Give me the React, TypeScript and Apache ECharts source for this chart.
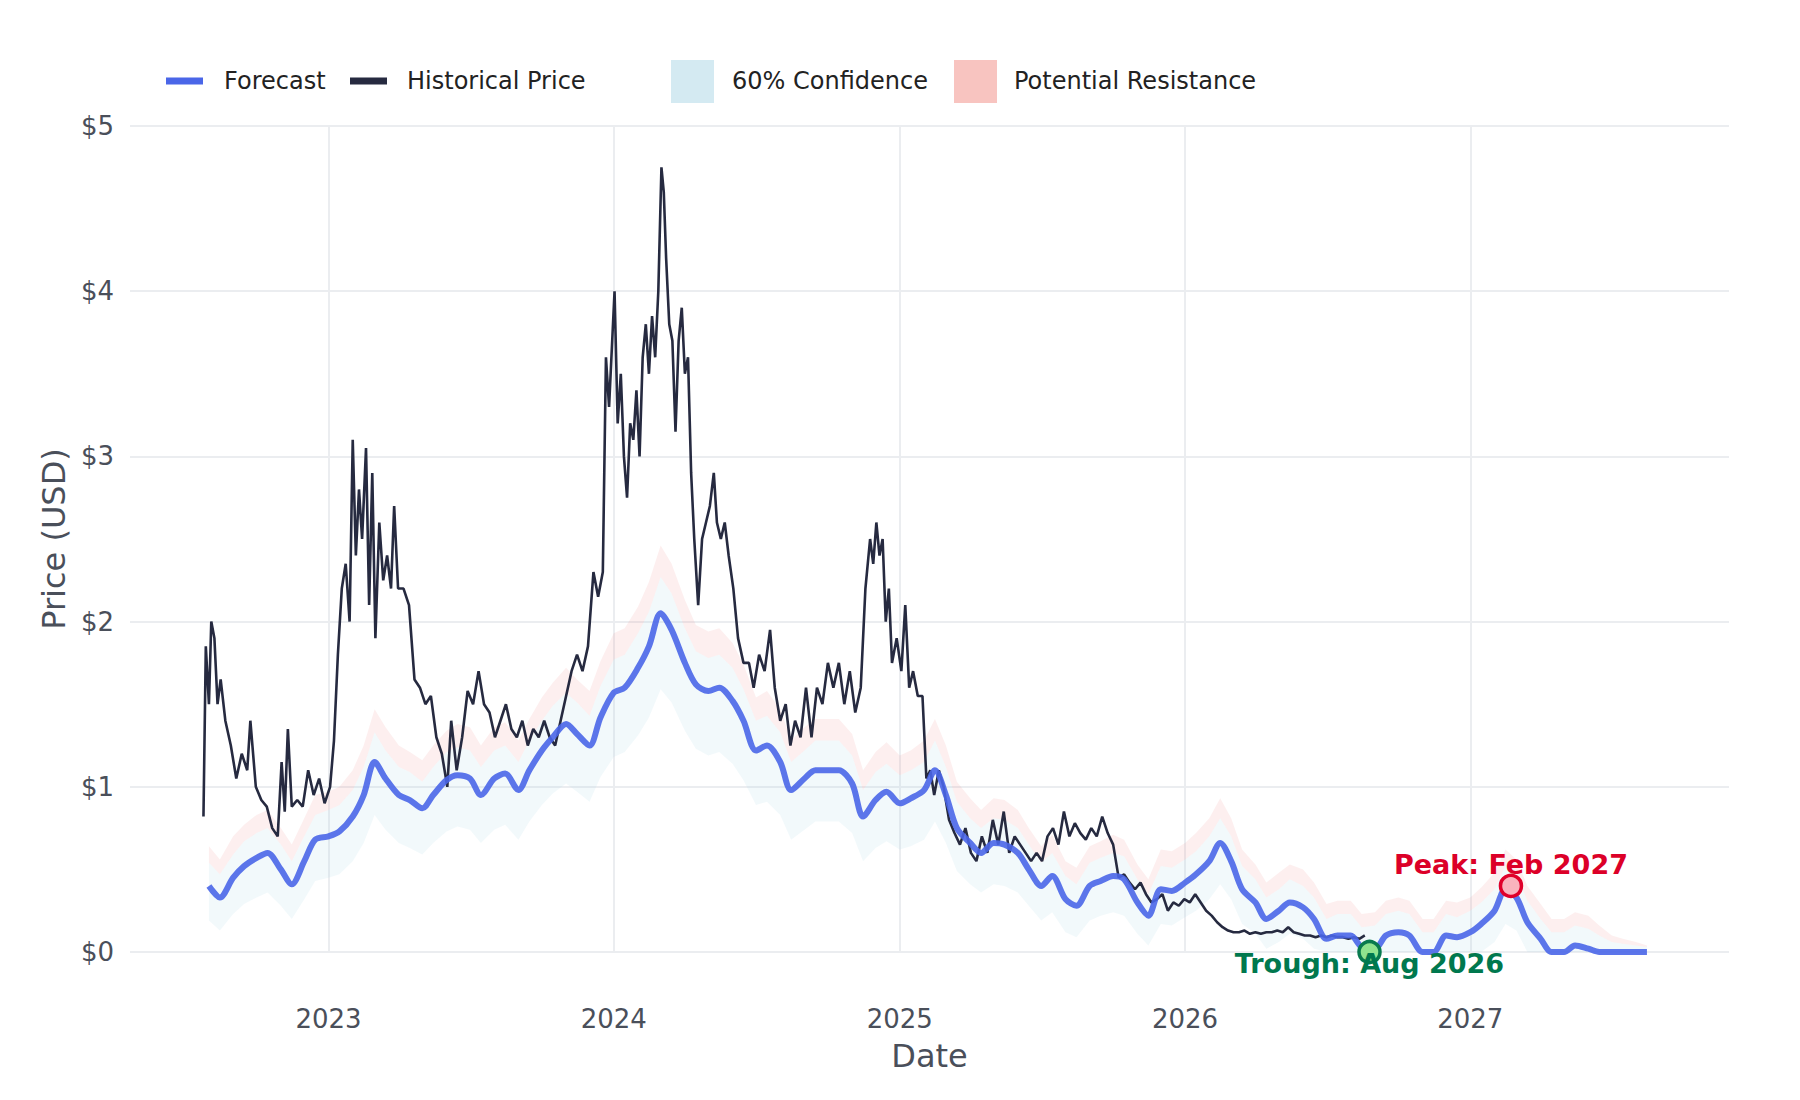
import { useEffect, useRef } from "react";
import * as echarts from "echarts";

// historical price, roughly weekly
const histDates = [
  "2022-07-25","2022-07-28","2022-08-01","2022-08-04","2022-08-08","2022-08-12","2022-08-16","2022-08-22","2022-08-29","2022-09-05","2022-09-12","2022-09-19","2022-09-23","2022-09-30","2022-10-07","2022-10-14","2022-10-21","2022-10-28","2022-11-02","2022-11-06","2022-11-10","2022-11-15","2022-11-22","2022-11-29","2022-12-06","2022-12-13","2022-12-20","2022-12-27",
  "2023-01-03","2023-01-08","2023-01-13","2023-01-18","2023-01-23","2023-01-28","2023-02-01","2023-02-05","2023-02-09","2023-02-13","2023-02-18","2023-02-22","2023-02-26","2023-03-02","2023-03-07","2023-03-12","2023-03-17","2023-03-22","2023-03-26","2023-03-31","2023-04-07","2023-04-14","2023-04-21","2023-04-28","2023-05-05","2023-05-12","2023-05-19","2023-05-26","2023-06-02","2023-06-07","2023-06-14","2023-06-21","2023-06-28","2023-07-05","2023-07-12","2023-07-19","2023-07-26","2023-08-02","2023-08-09","2023-08-16","2023-08-23","2023-08-30","2023-09-06","2023-09-13","2023-09-20","2023-09-27","2023-10-04","2023-10-11","2023-10-18","2023-10-25","2023-11-01","2023-11-08","2023-11-15","2023-11-22","2023-11-29","2023-12-06","2023-12-12","2023-12-18","2023-12-22","2023-12-26","2023-12-30",
  "2024-01-02","2024-01-06","2024-01-10","2024-01-14","2024-01-18","2024-01-22","2024-01-26","2024-01-30","2024-02-03","2024-02-07","2024-02-11","2024-02-15","2024-02-19","2024-02-23","2024-02-27","2024-03-02","2024-03-05","2024-03-08","2024-03-12","2024-03-16","2024-03-20","2024-03-24","2024-03-28","2024-04-01","2024-04-05","2024-04-09","2024-04-13","2024-04-18","2024-04-23","2024-04-28","2024-05-03","2024-05-08","2024-05-12","2024-05-17","2024-05-22","2024-05-27","2024-06-02","2024-06-08","2024-06-15","2024-06-22","2024-06-28","2024-07-05","2024-07-12","2024-07-19","2024-07-25","2024-08-01","2024-08-08","2024-08-14","2024-08-20","2024-08-27","2024-09-03","2024-09-10","2024-09-17","2024-09-24","2024-10-01","2024-10-08","2024-10-15","2024-10-22","2024-10-29","2024-11-05","2024-11-12","2024-11-18","2024-11-24","2024-11-28","2024-12-02","2024-12-06","2024-12-10","2024-12-14","2024-12-18","2024-12-22","2024-12-28",
  "2025-01-03","2025-01-08","2025-01-13","2025-01-18","2025-01-24","2025-01-30","2025-02-04","2025-02-09","2025-02-14","2025-02-20","2025-02-26","2025-03-05","2025-03-12","2025-03-19","2025-03-26","2025-04-02","2025-04-09","2025-04-16","2025-04-23","2025-04-30","2025-05-07","2025-05-14","2025-05-21","2025-05-28","2025-06-04","2025-06-11","2025-06-18","2025-06-25","2025-07-02","2025-07-09","2025-07-16","2025-07-23","2025-07-30","2025-08-06","2025-08-13","2025-08-20","2025-08-27","2025-09-03","2025-09-10","2025-09-17","2025-09-24","2025-10-01","2025-10-08","2025-10-15","2025-10-22","2025-10-29","2025-11-05","2025-11-12","2025-11-19","2025-11-26","2025-12-03","2025-12-10","2025-12-17","2025-12-24","2025-12-31",
  "2026-01-07","2026-01-14","2026-01-21","2026-01-28","2026-02-04","2026-02-11","2026-02-18","2026-02-25","2026-03-04","2026-03-11","2026-03-18","2026-03-25","2026-04-01","2026-04-08","2026-04-15","2026-04-22","2026-04-29","2026-05-06","2026-05-13","2026-05-20","2026-05-27","2026-06-03","2026-06-10","2026-06-17","2026-06-24","2026-07-01","2026-07-08","2026-07-15","2026-07-22","2026-07-29","2026-08-05","2026-08-12","2026-08-19",
];
const histValues = [
  0.82,1.85,1.5,2.0,1.9,1.5,1.65,1.4,1.25,1.05,1.2,1.1,1.4,1.0,0.92,0.88,0.75,0.7,1.15,0.85,1.35,0.88,0.92,0.88,1.1,0.95,1.05,0.9,
  1.0,1.28,1.8,2.2,2.35,2.0,3.1,2.4,2.8,2.5,3.05,2.1,2.9,1.9,2.6,2.25,2.4,2.2,2.7,2.2,2.2,2.1,1.65,1.6,1.5,1.55,1.3,1.2,1.0,1.4,1.1,1.3,1.58,1.5,1.7,1.5,1.45,1.3,1.4,1.5,1.35,1.3,1.4,1.25,1.35,1.3,1.4,1.3,1.25,1.4,1.55,1.7,1.8,1.7,1.85,2.3,2.15,2.3,3.6,3.3,3.7,
  4.0,3.2,3.5,3.0,2.75,3.2,3.1,3.4,3.0,3.6,3.8,3.5,3.85,3.6,4.0,4.75,4.6,4.2,3.8,3.7,3.15,3.7,3.9,3.5,3.6,2.9,2.5,2.1,2.5,2.6,2.7,2.9,2.6,2.5,2.6,2.4,2.2,1.9,1.75,1.75,1.6,1.8,1.7,1.95,1.6,1.4,1.5,1.25,1.4,1.3,1.6,1.3,1.6,1.5,1.75,1.6,1.75,1.5,1.7,1.45,1.6,2.2,2.5,2.35,2.6,2.4,2.5,2.0,2.2,1.75,1.9,
  1.7,2.1,1.6,1.7,1.55,1.55,1.05,1.1,0.95,1.1,1.0,0.8,0.72,0.65,0.75,0.6,0.55,0.7,0.6,0.8,0.65,0.85,0.6,0.7,0.65,0.6,0.55,0.6,0.55,0.7,0.75,0.65,0.85,0.7,0.78,0.72,0.68,0.75,0.7,0.82,0.72,0.65,0.45,0.47,0.42,0.38,0.42,0.35,0.3,0.32,0.35,0.25,0.3,0.28,0.32,
  0.3,0.35,0.3,0.25,0.22,0.18,0.15,0.13,0.12,0.12,0.13,0.11,0.12,0.11,0.12,0.12,0.13,0.12,0.15,0.12,0.11,0.1,0.1,0.09,0.1,0.09,0.1,0.09,0.09,0.08,0.09,0.08,0.1,
];

// forecast, 1st and 15th of each month from Aug 2022 to Aug 2027
const forecastMonths = [
  "2022-08","2022-09","2022-10","2022-11","2022-12",
  "2023-01","2023-02","2023-03","2023-04","2023-05","2023-06","2023-07","2023-08","2023-09","2023-10","2023-11","2023-12",
  "2024-01","2024-02","2024-03","2024-04","2024-05","2024-06","2024-07","2024-08","2024-09","2024-10","2024-11","2024-12",
  "2025-01","2025-02","2025-03","2025-04","2025-05","2025-06","2025-07","2025-08","2025-09","2025-10","2025-11","2025-12",
  "2026-01","2026-02","2026-03","2026-04","2026-05","2026-06","2026-07","2026-08","2026-09","2026-10","2026-11","2026-12",
  "2027-01","2027-02","2027-03","2027-04","2027-05","2027-06","2027-07","2027-08",
];
const forecast = [
  0.4,0.33,0.45,0.52,0.57,0.6,0.5,0.41,0.55,0.68,
  0.7,0.73,0.82,0.95,1.15,1.05,0.95,0.92,0.87,0.95,1.04,1.07,1.05,0.95,1.05,1.08,0.98,1.1,1.22,1.3,1.38,1.32,1.25,1.42,
  1.57,1.6,1.72,1.85,2.05,1.95,1.75,1.62,1.58,1.6,1.52,1.4,1.22,1.25,1.15,0.98,1.05,1.1,1.1,1.1,1.02,0.82,0.92,0.97,
  0.9,0.93,0.98,1.1,0.95,0.75,0.66,0.6,0.66,0.65,0.6,0.5,0.4,0.46,0.32,0.28,0.4,0.43,0.46,0.44,0.3,0.22,0.38,0.37,
  0.42,0.47,0.55,0.66,0.55,0.38,0.3,0.2,0.25,0.3,0.27,0.2,0.08,0.1,0.1,0.03,0.02,0.1,0.12,0.1,0,0,0.1,0.09,
  0.12,0.17,0.25,0.38,0.33,0.18,0.08,0,0,0.04,0.02,0,0,0,0,0,
];
const confLow = [
  0.19,0.13,0.23,0.29,0.33,0.36,0.28,0.2,0.32,0.43,
  0.45,0.47,0.55,0.66,0.83,0.74,0.66,0.63,0.59,0.66,0.73,0.76,0.74,0.66,0.74,0.77,0.68,0.79,0.89,0.96,1.02,0.97,0.91,1.06,
  1.18,1.21,1.31,1.42,1.59,1.51,1.34,1.23,1.19,1.21,1.14,1.04,0.89,0.91,0.83,0.68,0.74,0.79,0.79,0.79,0.72,0.55,0.63,0.67,
  0.62,0.64,0.68,0.79,0.66,0.49,0.41,0.36,0.41,0.4,0.36,0.28,0.19,0.24,0.12,0.09,0.19,0.22,0.24,0.22,0.11,0.04,0.17,0.16,
  0.21,0.25,0.32,0.41,0.32,0.17,0.11,0.02,0.06,0.11,0.08,0.02,0,0,0,0,0,0,0,0,0,0,0,0,
  0,0,0.06,0.17,0.13,0,0,0,0,0,0,0,0,0,0,0,
];
const confHigh = [
  0.54,0.47,0.59,0.67,0.72,0.75,0.65,0.55,0.7,0.83,
  0.86,0.89,0.98,1.12,1.33,1.22,1.12,1.09,1.03,1.12,1.21,1.24,1.22,1.12,1.22,1.25,1.15,1.28,1.4,1.49,1.57,1.51,1.43,1.61,
  1.77,1.8,1.93,2.06,2.27,2.17,1.96,1.82,1.78,1.8,1.72,1.59,1.4,1.43,1.33,1.15,1.22,1.28,1.28,1.28,1.19,0.98,1.09,1.14,
  1.07,1.1,1.15,1.28,1.12,0.91,0.81,0.75,0.81,0.8,0.75,0.65,0.54,0.6,0.46,0.41,0.54,0.57,0.6,0.58,0.44,0.35,0.52,0.51,
  0.56,0.61,0.7,0.81,0.7,0.52,0.44,0.33,0.38,0.44,0.4,0.33,0.2,0.23,0.23,0.15,0.16,0.23,0.25,0.23,0.12,0.12,0.23,0.21,
  0.25,0.3,0.38,0.52,0.47,0.31,0.2,0.12,0.12,0.16,0.14,0.1,0.06,0.05,0.04,0.03,
];
const resistHigh = [
  0.64,0.56,0.7,0.77,0.83,0.86,0.75,0.65,0.81,0.95,
  0.97,1.0,1.1,1.25,1.47,1.36,1.25,1.21,1.16,1.25,1.34,1.38,1.36,1.25,1.36,1.39,1.28,1.41,1.54,1.63,1.72,1.65,1.58,1.76,
  1.93,1.96,2.09,2.24,2.46,2.35,2.13,1.98,1.94,1.96,1.87,1.74,1.54,1.58,1.47,1.28,1.36,1.41,1.41,1.41,1.32,1.1,1.21,1.27,
  1.19,1.22,1.28,1.41,1.25,1.03,0.93,0.86,0.93,0.92,0.86,0.75,0.64,0.71,0.55,0.51,0.64,0.67,0.71,0.68,0.53,0.44,0.62,0.61,
  0.66,0.72,0.81,0.93,0.81,0.62,0.53,0.42,0.48,0.53,0.5,0.42,0.29,0.31,0.31,0.23,0.24,0.31,0.33,0.31,0.2,0.2,0.31,0.3,
  0.33,0.39,0.48,0.62,0.56,0.4,0.29,0.2,0.2,0.24,0.22,0.16,0.1,0.08,0.06,0.04,
];

const peakPoint = { date: "2027-02-22", value: 0.4, label: "Peak: Feb 2027" };
const troughPoint = { date: "2026-08-25", value: 0, label: "Trough: Aug 2026" };

const FONT = "DejaVu Sans";

export default function App() {
  const ref = useRef<HTMLDivElement>(null);

  useEffect(() => {
    if (!ref.current) return;
    const chart = echarts.init(ref.current, undefined, { renderer: "svg" });

    const fDates: string[] = [];
    forecastMonths.forEach((m) => {
      fDates.push(m + "-01");
      fDates.push(m + "-15");
    });
    const pair = (vals: number[]) => vals.map((v, i) => [fDates[i], v]);
    const confBand = confHigh.map((v, i) => [fDates[i], +(v - confLow[i]).toFixed(3)]);
    const resBand = resistHigh.map((v, i) => [fDates[i], +(v - confHigh[i]).toFixed(3)]);

    const legendFont = `24px '${FONT}'`;

    const option = {
      animation: false,
      backgroundColor: "#ffffff",
      textStyle: { fontFamily: FONT },
      grid: { left: 130, right: 71, top: 126, bottom: 148, containLabel: false },
      xAxis: {
        type: "time",
        min: "2022-04-22",
        max: "2027-11-28",
        splitNumber: 5,
        axisLine: { show: false },
        axisTick: { show: false },
        axisLabel: { color: "#4a4f5a", fontSize: 26, margin: 54, formatter: "{yyyy}" },
        splitLine: { show: true, showMinLine: false, showMaxLine: false, lineStyle: { color: "#ebedf0", width: 2 } },
        name: "Date",
        nameLocation: "middle",
        nameGap: 88,
        nameTextStyle: { color: "#4a4f5a", fontSize: 32 },
      },
      yAxis: {
        type: "value",
        min: 0,
        max: 5,
        interval: 1,
        axisLine: { show: false },
        axisTick: { show: false },
        axisLabel: { color: "#4a4f5a", fontSize: 26, margin: 16, formatter: "${value}" },
        splitLine: { lineStyle: { color: "#ebedf0", width: 2 } },
        name: "Price (USD)",
        nameLocation: "middle",
        nameGap: 60,
        nameTextStyle: { color: "#4a4f5a", fontSize: 32 },
      },
      series: [
        {
          type: "line", stack: "band", data: pair(confLow), symbol: "none",
          lineStyle: { opacity: 0 }, silent: true, z: 1,
        },
        {
          type: "line", stack: "band", data: confBand, symbol: "none",
          lineStyle: { opacity: 0 }, areaStyle: { color: "rgba(173,216,230,0.22)" }, silent: true, z: 1,
        },
        {
          type: "line", stack: "band", data: resBand, symbol: "none",
          lineStyle: { opacity: 0 }, areaStyle: { color: "rgba(240,128,128,0.18)" }, silent: true, z: 1,
        },
        {
          name: "Historical Price", type: "line", symbol: "none",
          data: histDates.map((d, i) => [d, histValues[i]]),
          lineStyle: { color: "#262a40", width: 2.6 }, z: 3,
        },
        {
          name: "Forecast", type: "line", symbol: "none", smooth: 0.3,
          data: pair(forecast),
          lineStyle: { color: "#4a66e8", width: 6, opacity: 0.9 }, z: 4,
        },
        {
          type: "scatter", symbol: "circle", symbolSize: 21, z: 6, clip: false,
          data: [
            {
              value: [peakPoint.date, peakPoint.value],
              itemStyle: { color: "#f9b3bd", borderColor: "#e0002a", borderWidth: 3.5, opacity: 1 },
              label: { show: true, position: "inside", offset: [0, -21], formatter: peakPoint.label, color: "#dc0028" },
            },
            {
              value: [troughPoint.date, troughPoint.value],
              itemStyle: { color: "#8fe38f", borderColor: "#087a4e", borderWidth: 3.5, opacity: 1 },
              label: { show: true, position: "inside", offset: [0, 11], formatter: troughPoint.label, color: "#00784e" },
            },
          ],
          label: { fontWeight: "bold", fontSize: 27, fontFamily: FONT },
        },
      ],
      graphic: [
        { type: "line", shape: { x1: 166, y1: 81, x2: 203, y2: 81 }, style: { stroke: "#4a66e8", lineWidth: 7 } },
        { type: "text", x: 224, y: 81, style: { text: "Forecast", font: legendFont, fill: "#222", verticalAlign: "middle" } },
        { type: "line", shape: { x1: 350, y1: 81, x2: 387, y2: 81 }, style: { stroke: "#262a40", lineWidth: 7 } },
        { type: "text", x: 407, y: 81, style: { text: "Historical Price", font: legendFont, fill: "#222", verticalAlign: "middle" } },
        { type: "rect", shape: { x: 671, y: 60, width: 43, height: 43 }, style: { fill: "#d4eaf2" } },
        { type: "text", x: 732, y: 81, style: { text: "60% Confidence", font: legendFont, fill: "#222", verticalAlign: "middle" } },
        { type: "rect", shape: { x: 954, y: 60, width: 43, height: 43 }, style: { fill: "#f8c4c0" } },
        { type: "text", x: 1014, y: 81, style: { text: "Potential Resistance", font: legendFont, fill: "#222", verticalAlign: "middle" } },
      ],
    };

    chart.setOption(option as any);
    return () => chart.dispose();
  }, []);

  return <div ref={ref} style={{ width: 1800, height: 1100, margin: -8 }} />;
}
